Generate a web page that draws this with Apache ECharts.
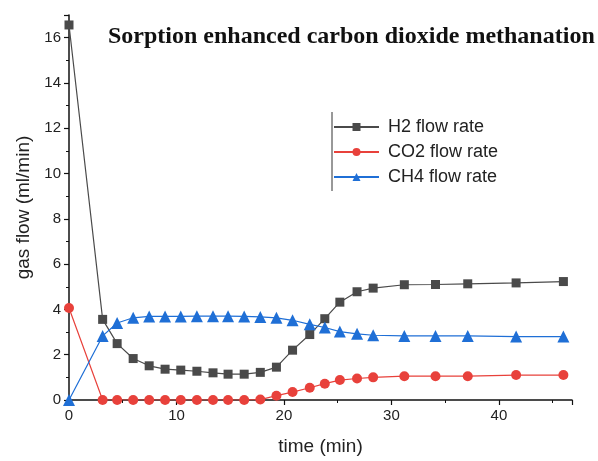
<!DOCTYPE html>
<html><head><meta charset="utf-8">
<script src="https://cdn.jsdelivr.net/npm/echarts@6/dist/echarts.min.js"></script>
<style>html,body{margin:0;padding:0;background:#fff}#c{width:598px;height:461px}</style>
</head><body><div id="c"></div>
<script>
const time = [0, 3.13, 4.48, 5.97, 7.46, 8.94, 10.4, 11.9, 13.4, 14.8, 16.3, 17.8, 19.3, 20.8, 22.4, 23.8, 25.2, 26.8, 28.3, 31.2, 34.1, 37.1, 41.6, 46.0];
const h2 = [16.56, 3.56, 2.49, 1.83, 1.51, 1.36, 1.32, 1.27, 1.20, 1.14, 1.14, 1.22, 1.45, 2.20, 2.89, 3.59, 4.32, 4.78, 4.94, 5.09, 5.10, 5.13, 5.17, 5.23];
const co2 = [4.06, 0, 0, 0, 0, 0, 0, 0, 0, 0, 0, 0.02, 0.19, 0.35, 0.54, 0.72, 0.88, 0.95, 1.00, 1.05, 1.05, 1.05, 1.10, 1.10];
const ch4 = [0, 2.83, 3.40, 3.63, 3.69, 3.69, 3.69, 3.70, 3.70, 3.70, 3.69, 3.67, 3.63, 3.52, 3.34, 3.20, 3.02, 2.92, 2.86, 2.83, 2.83, 2.83, 2.80, 2.80];
const seriesNames = ['H2 flow rate', 'CO2 flow rate', 'CH4 flow rate'];
const titleText = 'Sorption enhanced carbon dioxide methanation';

const pair = arr => time.map((t, i) => [t, arr[i]]);
const chart = echarts.init(document.getElementById('c'), null, {renderer: 'canvas'});
const sans = 'Liberation Sans, Arial, sans-serif';
const axisFont = {fontFamily: sans, fontSize: 15, color: '#222'};
chart.setOption({
  animation: false,
  backgroundColor: '#fff',
  title: {text: titleText, left: 103, top: 20, textStyle: {fontFamily: 'Liberation Serif, Times New Roman, serif', fontWeight: 'bold', fontSize: 24, color: '#111'}},
  grid: {left: 69, right: 26, top: 15, bottom: 59},
  legend: {
    orient: 'vertical', left: 333, top: 118, itemWidth: 45, itemHeight: 10, itemGap: 7, padding: 0,
    textStyle: {fontFamily: sans, fontSize: 18, color: '#222', padding: [0,0,0,4]},
    data: seriesNames
  },
  graphic: [{type: 'line', shape: {x1: 332, y1: 112, x2: 332, y2: 191}, style: {stroke: '#333', lineWidth: 1}}],
  xAxis: {
    type: 'value', min: 0, max: 46.8, interval: 10,
    name: 'time (min)', nameLocation: 'middle', nameGap: 37,
    nameTextStyle: {fontFamily: sans, fontSize: 19, color: '#222'},
    axisLine: {lineStyle: {color: '#111', width: 1.5}},
    axisTick: {show: true, inside: false, length: 5, lineStyle: {color: '#111', width: 1.2}},
    minorTick: {show: true, splitNumber: 2, length: 3, lineStyle: {color: '#111', width: 1}},
    axisLabel: Object.assign({showMaxLabel: false, margin: 8}, axisFont),
    splitLine: {show: false}
  },
  yAxis: {
    type: 'value', min: 0, max: 17, interval: 2,
    name: 'gas flow (ml/min)', nameLocation: 'middle', nameGap: 33,
    nameTextStyle: {fontFamily: sans, fontSize: 19, color: '#222'},
    axisLine: {show: true, lineStyle: {color: '#111', width: 1.5}},
    axisTick: {show: true, inside: false, length: 5, lineStyle: {color: '#111', width: 1.2}},
    minorTick: {show: true, splitNumber: 2, length: 3, lineStyle: {color: '#111', width: 1}},
    axisLabel: Object.assign({showMaxLabel: false, margin: 8}, axisFont),
    splitLine: {show: false}
  },
  series: [
    {name: seriesNames[0], type: 'line', data: pair(h2), symbol: 'rect', symbolSize: 9, z: 3,
     itemStyle: {color: '#4a4a4a'}, lineStyle: {color: '#4a4a4a', width: 1.2}},
    {name: seriesNames[1], type: 'line', data: pair(co2), symbol: 'circle', symbolSize: 10, z: 2,
     itemStyle: {color: '#e8413b'}, lineStyle: {color: '#e8413b', width: 1.2}},
    {name: seriesNames[2], type: 'line', data: pair(ch4), symbol: 'triangle', symbolSize: 12, z: 4,
     itemStyle: {color: '#1f6fd6'}, lineStyle: {color: '#1f6fd6', width: 1.2}}
  ]
});
</script></body></html>
